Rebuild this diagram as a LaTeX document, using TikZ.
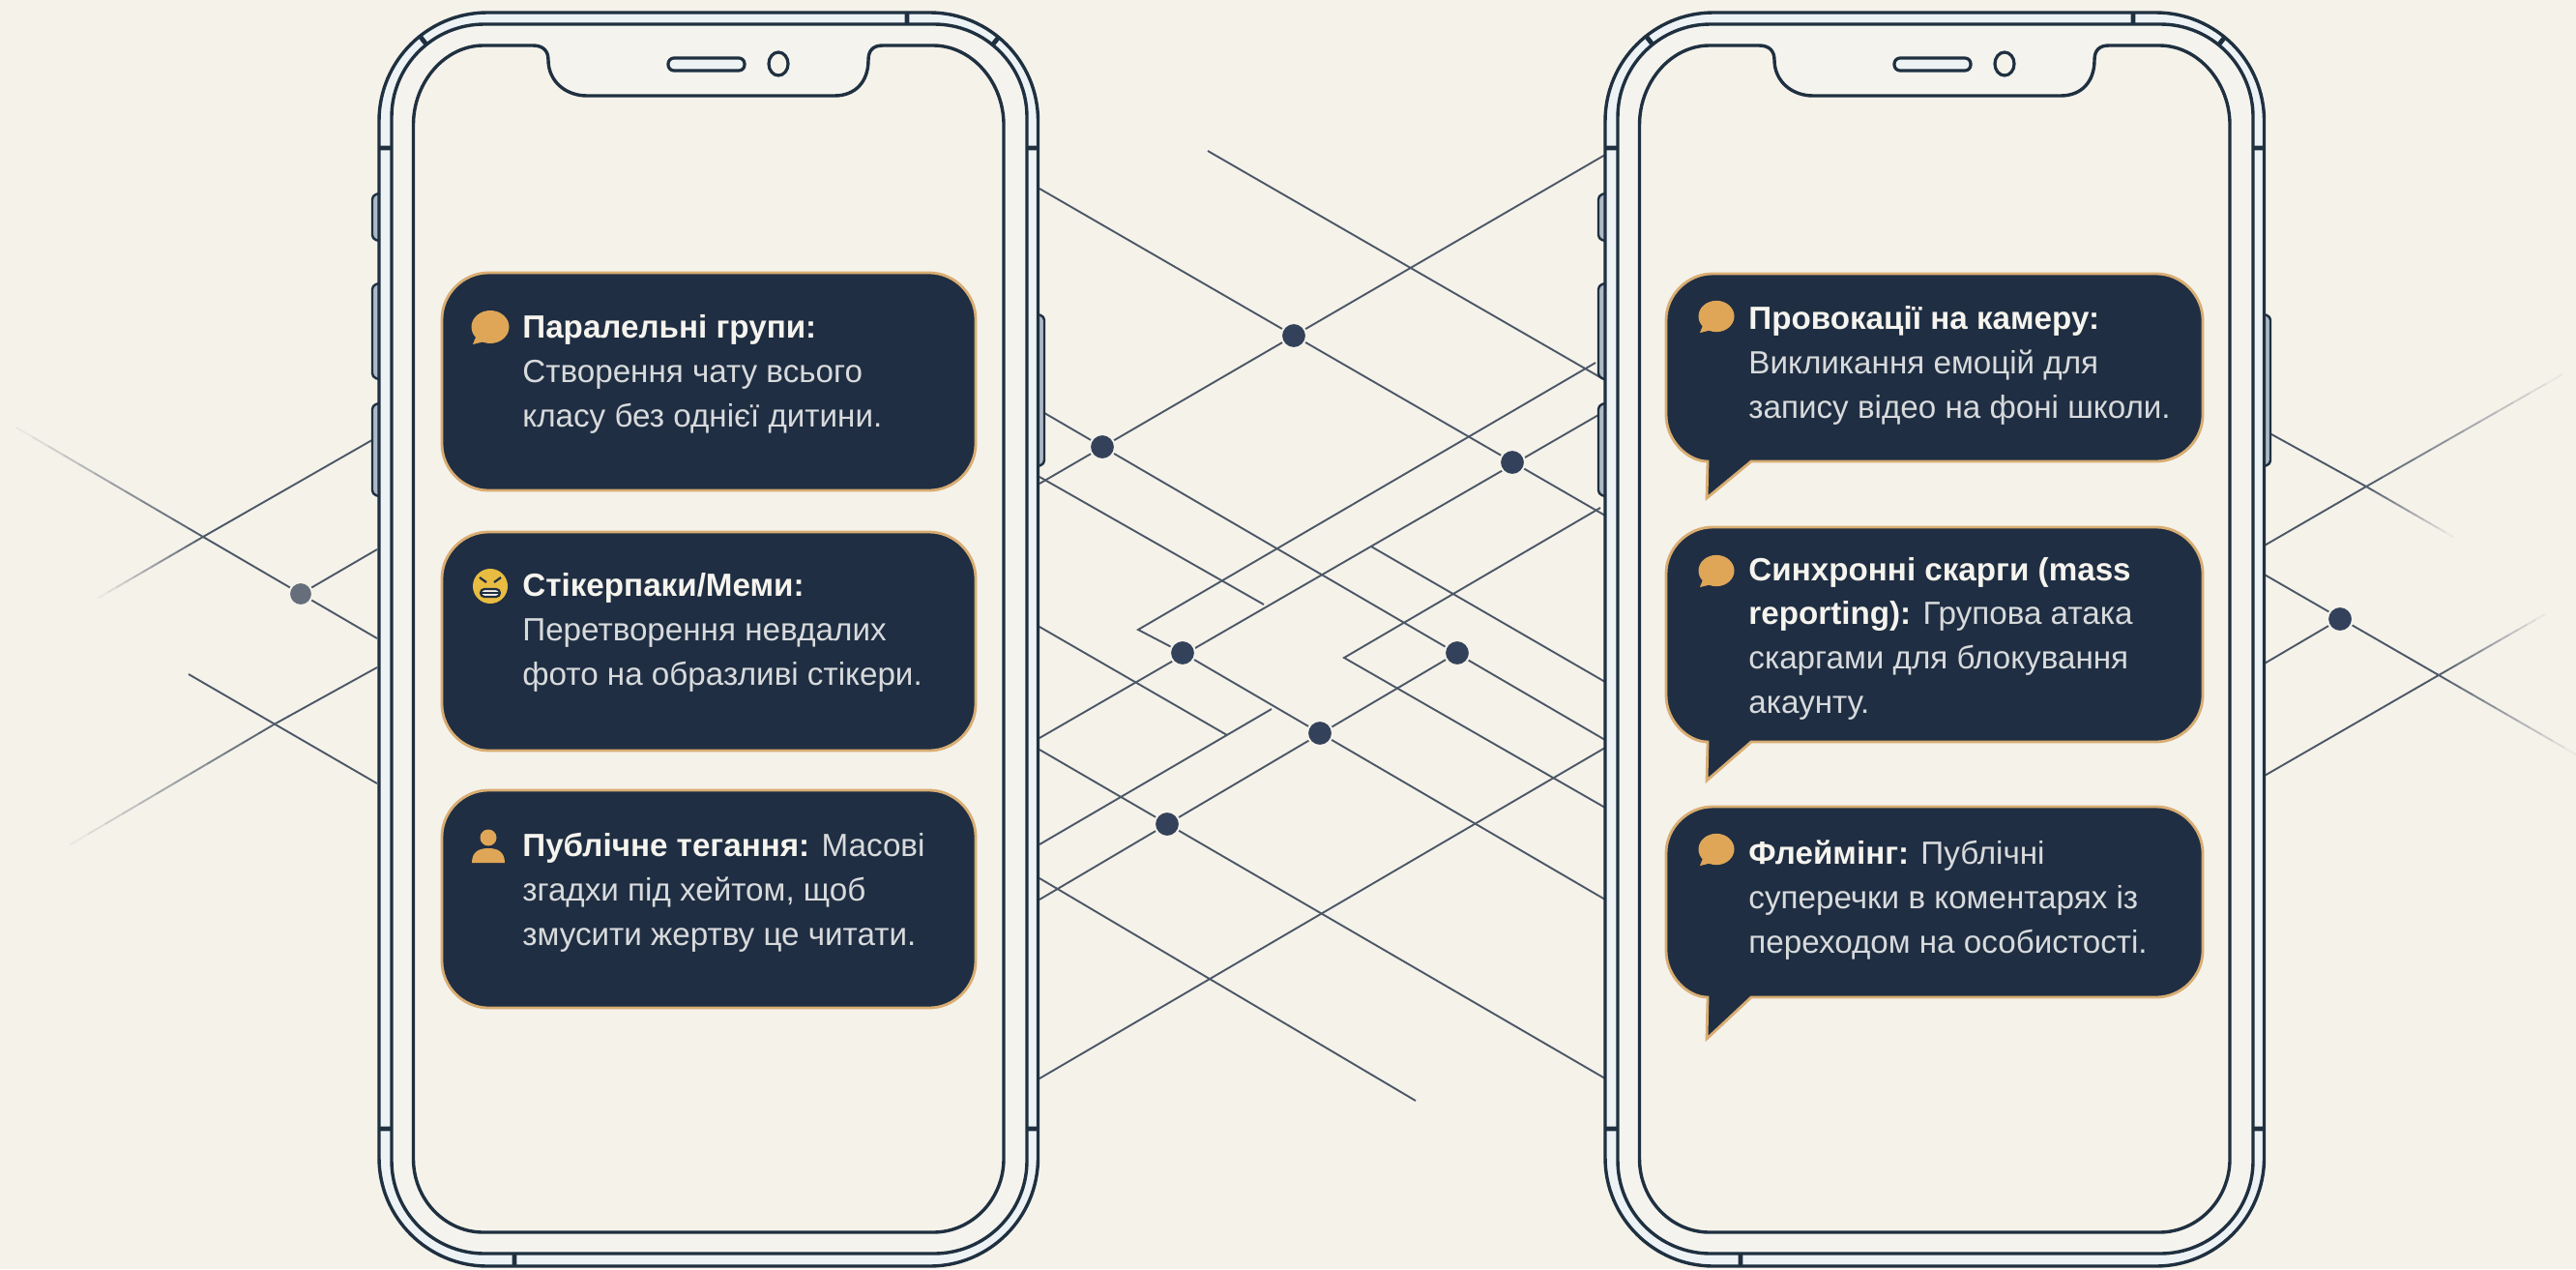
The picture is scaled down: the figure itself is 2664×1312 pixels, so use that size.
\documentclass[tikz,border=0pt]{standalone}
\usepackage{fontspec}
\setmainfont{Liberation Sans}
\usetikzlibrary{calc}
\definecolor{paper}{HTML}{F5F2EA}
\definecolor{ink}{HTML}{1F3040}
\definecolor{net}{HTML}{4C5766}
\definecolor{dotc}{HTML}{33425A}
\definecolor{band}{HTML}{EDF2F5}
\definecolor{band2}{HTML}{F4F3EE}
\definecolor{btn}{HTML}{AEB9C6}
\definecolor{cardc}{HTML}{1F2E42}
\definecolor{gold}{HTML}{D9AD72}
\definecolor{iconc}{HTML}{DFA657}
\definecolor{titlec}{HTML}{F6F4EE}
\definecolor{bodyc}{HTML}{D8DADC}
\tikzset{
  netline/.style={draw=net,line width=0.95pt},
  dotnode/.style={circle,fill=dotc,draw=paper,line width=1pt,minimum size=13pt,inner sep=0pt},
  frameline/.style={draw=ink,line width=1.7pt},
  ticks/.style={draw=ink,line width=2.4pt},
  cardbox/.style={draw=gold,line width=1.4pt,fill=cardc},
  cardtext/.style={anchor=base west,inner sep=0pt,align=left,text=bodyc,font=\fontsize{16.6}{22.8}\selectfont},
  icon/.style={fill=iconc,draw=none},
}
\newcommand\ttl[1]{\textcolor{titlec}{\bfseries #1}}
% a line that dies away from solid point #1 to end #2
\newcommand\fadeln[2]{%
  \foreach \k in {0,...,11}{%
    \pgfmathsetmacro\fa{\k/12}\pgfmathsetmacro\fb{(\k+1)/12}\pgfmathsetmacro\fc{95-8*\k}%
    \draw[netline,draw=net!\fc!paper,line cap=round] ($#1!\fa!#2$) -- ($#1!\fb!#2$);
  }}
\newcommand\plaincard[2]{%
  \pgfmathsetmacro\cta{#1+22}\pgfmathsetmacro\ctb{#1+48}\pgfmathsetmacro\cba{#2-48}\pgfmathsetmacro\cbb{#2-22}%
  \draw[cardbox] (505,#1) -- (961,#1) .. controls (987,#1) and (1009,\cta) .. (1009,\ctb)
    -- (1009,\cba) .. controls (1009,\cbb) and (987,#2) .. (961,#2)
    -- (505,#2) .. controls (479,#2) and (457,\cbb) .. (457,\cba)
    -- (457,\ctb) .. controls (457,\cta) and (479,#1) .. (505,#1) -- cycle;}
\newcommand\tailcard[3]{%
  \pgfmathsetmacro\cta{#1+22}\pgfmathsetmacro\ctb{#1+48}\pgfmathsetmacro\cba{#2-48}\pgfmathsetmacro\cbb{#2-22}%
  \draw[cardbox,line join=miter] (1771,#1) -- (2230,#1) .. controls (2256,#1) and (2278,\cta) .. (2278,\ctb)
    -- (2278,\cba) .. controls (2278,\cbb) and (2256,#2) .. (2230,#2)
    -- (1811,#2) -- (1765,#3) -- (1766,#2) .. controls (1745,#2) and (1723,\cbb) .. (1723,\cba)
    -- (1723,\ctb) .. controls (1723,\cta) and (1745,#1) .. (1771,#1) -- cycle;}
\newcommand\bubbleicon[3]{% centre x, centre y, scale
  \begin{scope}[shift={(#1,#2)},x=#3*0.5pt,y=-#3*0.5pt]
    \fill[icon] (0,0) ellipse [x radius=19.5,y radius=17];
    \fill[icon] (-14,8) -- (-18,18) -- (-2,14) -- cycle;
  \end{scope}}
\newcommand\phone{%
  % side buttons
  \foreach \ya/\yb in {200/249,293/392,417/513}{
    \draw[draw=ink,line width=1.2pt,fill=btn,rounded corners=2pt] (392,\ya) -- (385,\ya+2) -- (385,\yb-2) -- (392,\yb);}
  \draw[draw=ink,line width=1.2pt,fill=btn,rounded corners=2pt] (1073,325) -- (1080,327) -- (1080,480) -- (1073,482);
  % body
  \draw[frameline,fill=band,rounded corners=56pt] (392,13) rectangle (1073.5,1309);
  \draw[frameline,fill=band2,rounded corners=48pt] (405,25) rectangle (1062,1296);
  % screen with notch
  \draw[frameline,fill=paper] (500,47) -- (551,47) .. controls (561,47) and (567,52) .. (567,62)
    .. controls (567,84) and (585,99) .. (607,99) -- (863,99)
    .. controls (885,99) and (898,84) .. (898,62) .. controls (898,52) and (903,47) .. (913,47)
    -- (965,47) .. controls (1005,47) and (1038,85) .. (1038,129)
    -- (1038,1198) .. controls (1038,1240) and (1005,1274) .. (965,1274)
    -- (500,1274) .. controls (460,1274) and (427.5,1240) .. (427.5,1198)
    -- (427.5,129) .. controls (427.5,85) and (460,47) .. (500,47) -- cycle;
  % joints in the frame
  \draw[ticks] (938,13) -- (938,25) (434,37) -- (441,46) (1033,38) -- (1026,47)
    (392,153) -- (405,153) (1062,153) -- (1073.5,153)
    (392,1167) -- (405,1167) (1062,1167) -- (1073.5,1167) (532,1296) -- (532,1309);
  % speaker and camera
  \draw[draw=ink,line width=1.6pt,fill=band,rounded corners=3pt] (691,60) rectangle (770,73);
  \draw[draw=ink,line width=1.6pt,fill=paper] (805,66) ellipse [x radius=10,y radius=12];
}
\begin{document}
\begin{tikzpicture}[x=0.5pt,y=-0.5pt]
\useasboundingbox (0,0) rectangle (2664,1312);
\fill[paper] (0,0) rectangle (2664,1312);

% ---- network between and beside the phones
\draw[netline] (1075,195) -- (1660,533);
\draw[netline] (1249,156) -- (1660,393);
\draw[netline] (1075,424) -- (1660,765);
\draw[netline] (1075,493) -- (1307,625);
\draw[netline] (1650,375) -- (1177,651) -- (1223,675) -- (1660,930);
\draw[netline] (1075,763) -- (1660,425);
\draw[netline] (1075,648) -- (1269,760);
\draw[netline] (1075,873) -- (1315,733);
\draw[netline] (1075,775) -- (1660,1115);
\draw[netline] (1075,930) -- (1507,675);
\draw[netline] (1655,525) -- (1390,680) -- (1660,835);
\draw[netline] (1418,565) -- (1660,705);
\draw[netline] (1075,1115) -- (1660,773);
\draw[netline] (1075,908) -- (1464,1138);
\draw[netline] (1075,500) -- (1660,160);

% left side
\draw[netline] (210,555) -- (390,660);
\fadeln{(210,555)}{(17,442)}
\draw[netline] (210,555) -- (390,452);
\fadeln{(210,555)}{(102,618)}
\draw[netline] (311,614) -- (390,568);
\draw[netline] (195,697) -- (390,810);
\draw[netline] (285,748) -- (390,690);
\fadeln{(285,748)}{(73,873)}

% right side
\draw[netline] (2340,444) -- (2447,503);
\fadeln{(2447,503)}{(2537,555)}
\draw[netline] (2340,565) -- (2447,503);
\fadeln{(2447,503)}{(2650,387)}
\draw[netline] (2340,593) -- (2522,698);
\fadeln{(2522,698)}{(2664,780)}
\draw[netline] (2420,640) -- (2340,687);
\draw[netline] (2340,803) -- (2522,698);
\fadeln{(2522,698)}{(2632,635)}

% junction dots
\node[dotnode] (d1) at (1338,347) {};
\node[dotnode] (d2) at (1140,462) {};
\node[dotnode] (d3) at (1564,478) {};
\node[dotnode] (d4) at (1223,675) {};
\node[dotnode] (d5) at (1507,675) {};
\node[dotnode] (d6) at (1365,758) {};
\node[dotnode] (d7) at (1207,852) {};
\node[dotnode,fill=net!85!paper,minimum size=12pt] (d8) at (311,614) {};
\node[dotnode] (d9) at (2420,640) {};

% ---- phones
\phone
\begin{scope}[xshift=634pt]\phone\end{scope}

% ---- left phone cards
\plaincard{282}{507}
\plaincard{550}{776}
\plaincard{817}{1042}
\bubbleicon{507}{338}{1}
\begin{scope}[shift={(507,606)}]
  \fill[fill=iconc!75!yellow] (0,0) circle [radius=18];
  \draw[cardc,line width=1.1pt] (-11,-9) -- (-4,-4) (11,-9) -- (4,-4);
  \draw[cardc,line width=1.1pt,fill=paper,rounded corners=2pt] (-10,3) rectangle (10,11);
  \draw[cardc,line width=0.6pt] (-10,7) -- (10,7);
\end{scope}
\begin{scope}[shift={(505,875)}]
  \fill[icon] (0,-9) circle [radius=8.5];
  \fill[icon] (-17,17) .. controls (-17,5) and (-9,2) .. (0,2) .. controls (9,2) and (17,5) .. (17,17) -- cycle;
\end{scope}
\node[cardtext] (a1) at (540,441) {\ttl{Паралельні групи:}\\Створення чату всього\\класу без однієї дитини.};
\node[cardtext] (a2) at (540,708) {\ttl{Стікерпаки/Меми:}\\Перетворення невдалих\\фото на образливі стікери.};
\node[cardtext] (a3) at (540,977) {\ttl{Публічне тегання:} Масові\\згадхи під хейтом, щоб\\змусити жертву це читати.};

% ---- right phone cards
\tailcard{283}{477}{515}
\tailcard{545}{767}{807}
\tailcard{834}{1031}{1074}
\bubbleicon{1775}{327}{0.95}
\bubbleicon{1775}{590}{0.95}
\bubbleicon{1775}{878}{0.95}
\node[cardtext] (b1) at (1808,432) {\ttl{Провокації на камеру:}\\Викликання емоцій для\\запису відео на фоні школи.};
\node[cardtext] (b2) at (1808,737) {\ttl{Синхронні скарги (mass}\\\ttl{reporting):} Групова атака\\скаргами для блокування\\акаунту.};
\node[cardtext] (b3) at (1808,985) {\ttl{Флеймінг:} Публічні\\суперечки в коментарях із\\переходом на особистості.};
\end{tikzpicture}
\end{document}
